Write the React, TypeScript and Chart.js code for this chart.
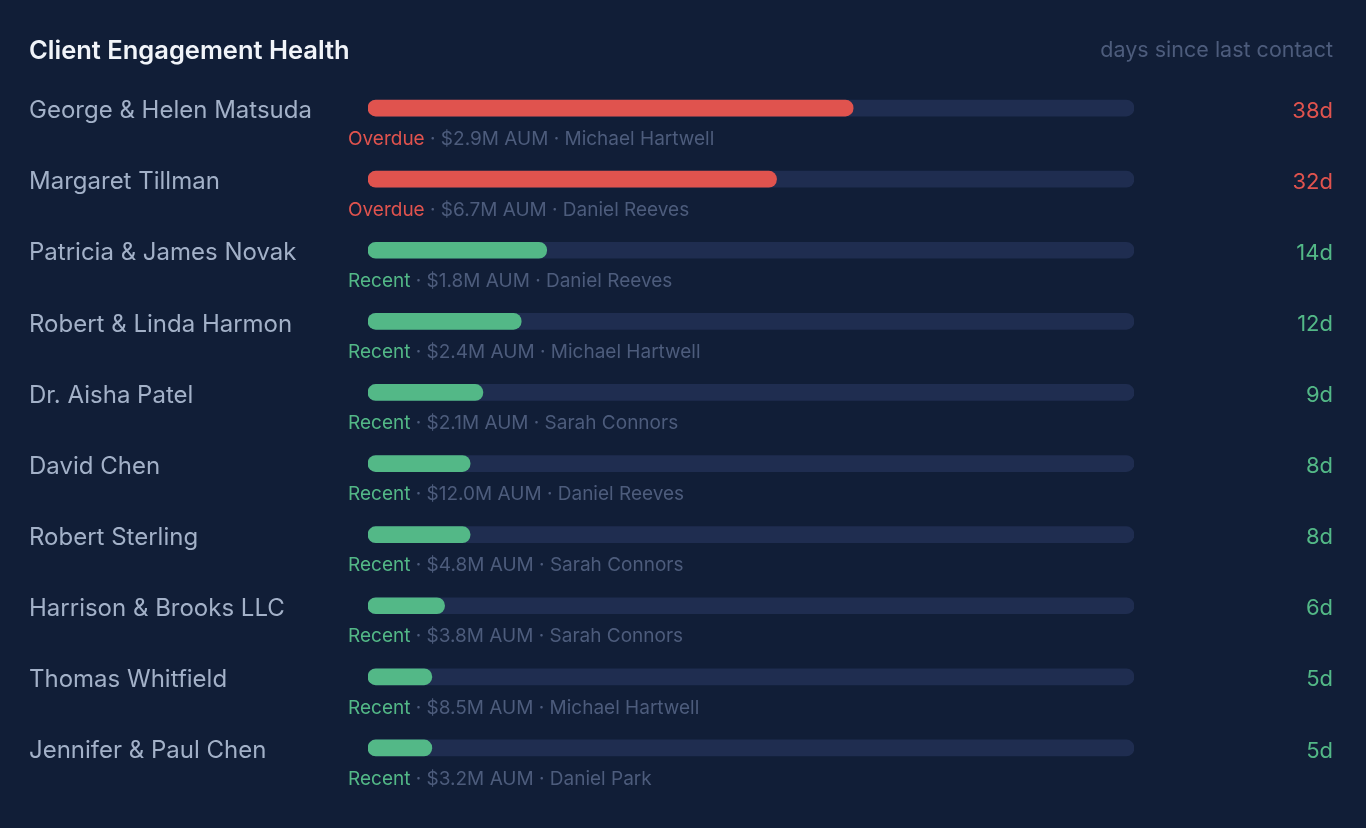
import React, { useEffect, useRef } from "react";
import { Chart, registerables } from "chart.js";

Chart.register(...registerables);

// Client list, in display order
const clients = [
  "George & Helen Matsuda",
  "Margaret Tillman",
  "Patricia & James Novak",
  "Robert & Linda Harmon",
  "Dr. Aisha Patel",
  "David Chen",
  "Robert Sterling",
  "Harrison & Brooks LLC",
  "Thomas Whitfield",
  "Jennifer & Paul Chen",
];
const daysSinceContact = [38, 32, 14, 12, 9, 8, 8, 6, 5, 5];
const statuses = ["Overdue", "Overdue", "Recent", "Recent", "Recent", "Recent", "Recent", "Recent", "Recent", "Recent"];
const aumLabels = ["$2.9M", "$6.7M", "$1.8M", "$2.4M", "$2.1M", "$12.0M", "$4.8M", "$3.8M", "$8.5M", "$3.2M"];
const advisors = [
  "Michael Hartwell",
  "Daniel Reeves",
  "Daniel Reeves",
  "Michael Hartwell",
  "Sarah Connors",
  "Daniel Reeves",
  "Sarah Connors",
  "Sarah Connors",
  "Michael Hartwell",
  "Daniel Park",
];
const scaleMaxDays = 60;

const BG = "#111e37";
const TRACK = "#1f2d50";
const RED = "#e0534e";
const GREEN = "#53b887";
const NAME = "#a3b1c8";
const MUTED = "#4d5c7c";
const TITLE = "#f1f4f9";
const FONT = "Inter, 'Noto Sans', sans-serif";

const statusColor = (s: string) => (s === "Overdue" ? RED : GREEN);

const textPlugin = {
  id: "engagementText",
  afterDraw(chart: any) {
    const ctx = chart.ctx as CanvasRenderingContext2D;
    const x = chart.scales.x;
    const y = chart.scales.y;
    const left = x.getPixelForValue(0);
    const rightEdge = chart.width - 33;
    ctx.save();

    // header
    ctx.textBaseline = "middle";
    ctx.textAlign = "left";
    ctx.fillStyle = TITLE;
    ctx.font = `600 25.5px ${FONT}`;
    ctx.fillText("Client Engagement Health", 29, 51);
    ctx.textAlign = "right";
    ctx.fillStyle = MUTED;
    ctx.font = `400 21.5px ${FONT}`;
    ctx.fillText("days since last contact", rightEdge, 51);

    clients.forEach((name, i) => {
      const cy = y.getPixelForValue(i);
      const color = statusColor(statuses[i]);

      ctx.textAlign = "left";
      ctx.fillStyle = NAME;
      ctx.font = `400 24px ${FONT}`;
      ctx.fillText(name, 29, cy + 3);

      ctx.textAlign = "right";
      ctx.fillStyle = color;
      ctx.font = `400 22px ${FONT}`;
      ctx.fillText(`${daysSinceContact[i]}d`, rightEdge, cy + 3);

      // status line under the bar
      ctx.textAlign = "left";
      let tx = left - 20;
      const sy = cy + 31;
      ctx.font = `400 19px ${FONT}`;
      ctx.fillStyle = color;
      ctx.fillText(statuses[i], tx, sy);
      tx += ctx.measureText(statuses[i]).width;
      ctx.fillStyle = MUTED;
      const rest = ` · ${aumLabels[i]} AUM · ${advisors[i]}`;
      ctx.fillText(rest, tx, sy);
    });
    ctx.restore();
  },
};

export default function App() {
  const ref = useRef<HTMLCanvasElement>(null);

  useEffect(() => {
    document.body.style.margin = "0";
    document.body.style.background = BG;
    const chart = new Chart(ref.current!, {
      type: "bar",
      data: {
        labels: clients,
        datasets: [
          {
            data: daysSinceContact,
            backgroundColor: statuses.map(statusColor),
            borderRadius: 8,
            borderSkipped: false,
            barThickness: 16,
            grouped: false,
            order: 1,
          } as any,
          {
            data: clients.map(() => scaleMaxDays),
            backgroundColor: TRACK,
            borderRadius: 8,
            borderSkipped: false,
            barThickness: 16,
            grouped: false,
            order: 2,
          } as any,
        ],
      },
      options: {
        indexAxis: "y",
        animation: false,
        responsive: false,
        maintainAspectRatio: false,
        layout: { padding: { left: 368, right: 232, top: 72.5, bottom: 44.5 } },
        scales: {
          x: { display: false, min: 0, max: scaleMaxDays },
          y: { display: false },
        },
        plugins: { legend: { display: false }, tooltip: { enabled: false } },
      },
      plugins: [textPlugin],
    });
    return () => chart.destroy();
  }, []);

  return (
    <div style={{ width: 1366, height: 828, background: BG }}>
      <canvas ref={ref} width={1366} height={828} style={{ display: "block" }} />
    </div>
  );
}
